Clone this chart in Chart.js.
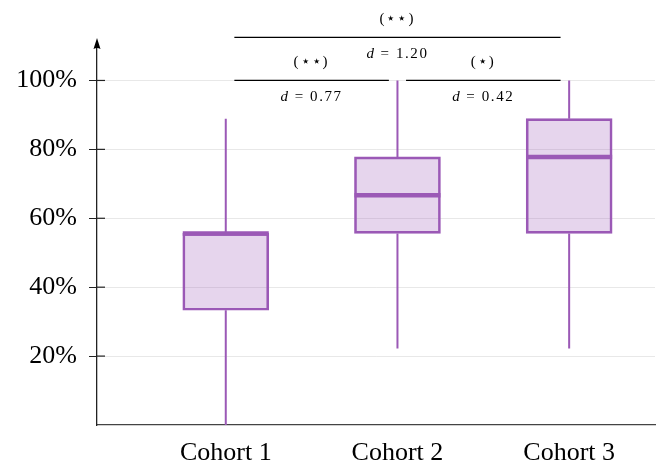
<!DOCTYPE html>
<html>
<head>
<meta charset="utf-8">
<script src="https://cdn.jsdelivr.net/npm/chart.js@4"></script>
<style>
  html, body { margin: 0; padding: 0; background: #fff; }
  #wrap { width: 658px; height: 465px; }
</style>
</head>
<body>
<div id="wrap"><canvas id="boxChart"></canvas></div>
<script>
// box plot values (percent)
const categories = ['Cohort 1', 'Cohort 2', 'Cohort 3'];
const whiskerLow = [0, 22.2, 22.2];
const quartile1 = [33.3, 55.6, 55.6];
const medians = [55.6, 66.7, 77.8];
const quartile3 = [55.6, 77.8, 88.9];
const whiskerHigh = [88.9, 100, 100];
const yTicks = [20, 40, 60, 80, 100];

// significance brackets
const pairFrom = [1, 2, 1];
const pairTo = [2, 3, 3];
const pairLevel = [100, 100, 112.5];
const pairStars = ['(\u22C6\u22C6)', '(\u22C6)', '(\u22C6\u22C6)'];
const pairEffect = ['0.77', '0.42', '1.20'];

const purple = '#9b59b6';
const serif = '"Liberation Serif", "DejaVu Serif", serif';

function drawEffect(ctx, cx, cy, value) {
    const italic = 'italic 15px ' + serif;
    const upright = '15px ' + serif;
    const rest = '= ' + value;
    ctx.letterSpacing = '1.6px';
    ctx.font = italic;
    const w1 = ctx.measureText('d').width + 5;
    ctx.font = upright;
    const w2 = ctx.measureText(rest).width;
    const x = cx - (w1 + w2) / 2;
    ctx.textAlign = 'left';
    ctx.textBaseline = 'middle';
    ctx.font = italic;
    ctx.fillText('d', x, cy);
    ctx.font = upright;
    ctx.fillText(rest, x + w1, cy);
    ctx.letterSpacing = '0px';
}

const boxPlugin = {
    id: 'boxParts',
    afterDatasetsDraw(chart) {
        const ctx = chart.ctx;
        const x = chart.scales.x, y = chart.scales.y;
        const meta = chart.getDatasetMeta(0);
        ctx.save();
        ctx.strokeStyle = purple;
        meta.data.forEach((bar, i) => {
            const cx = x.getPixelForValue(i + 1);
            ctx.lineWidth = 2;
            ctx.beginPath();
            ctx.moveTo(cx, y.getPixelForValue(whiskerLow[i]));
            ctx.lineTo(cx, y.getPixelForValue(quartile1[i]));
            ctx.moveTo(cx, y.getPixelForValue(quartile3[i]));
            ctx.lineTo(cx, y.getPixelForValue(whiskerHigh[i]));
            ctx.stroke();
            const half = bar.width / 2;
            const my = y.getPixelForValue(medians[i]);
            ctx.lineWidth = 4.5;
            ctx.beginPath();
            ctx.moveTo(cx - half, my);
            ctx.lineTo(cx + half, my);
            ctx.stroke();
        });
        ctx.restore();
    },
    afterDraw(chart) {
        const ctx = chart.ctx;
        const x = chart.scales.x, y = chart.scales.y;
        const area = chart.chartArea;
        ctx.save();
        // inner half of the y ticks
        ctx.strokeStyle = '#222';
        ctx.lineWidth = 1.2;
        yTicks.forEach(v => {
            const py = y.getPixelForValue(v);
            ctx.beginPath();
            ctx.moveTo(area.left, py);
            ctx.lineTo(area.left + 8, py);
            ctx.stroke();
        });
        // arrow on the y axis
        ctx.fillStyle = '#000';
        ctx.beginPath();
        ctx.moveTo(area.left, area.top - 8);
        ctx.lineTo(area.left - 3.5, area.top + 3);
        ctx.quadraticCurveTo(area.left, area.top + 1, area.left + 3.5, area.top + 3);
        ctx.closePath();
        ctx.fill();
        // brackets
        ctx.strokeStyle = '#000';
        ctx.lineWidth = 1.2;
        pairFrom.forEach((a, i) => {
            const x0 = x.getPixelForValue(a + 0.05);
            const x1 = x.getPixelForValue(pairTo[i] - 0.05);
            const py = y.getPixelForValue(pairLevel[i]);
            ctx.beginPath();
            ctx.moveTo(x0, py);
            ctx.lineTo(x1, py);
            ctx.stroke();
            const cx = (x0 + x1) / 2;
            ctx.font = '15px ' + serif;
            ctx.letterSpacing = '2px';
            ctx.textAlign = 'center';
            ctx.textBaseline = 'middle';
            ctx.fillText(pairStars[i], cx, py - 18);
            ctx.letterSpacing = '0px';
            drawEffect(ctx, cx, py + 17, pairEffect[i]);
        });
        ctx.restore();
    }
};

new Chart(document.getElementById('boxChart'), {
    type: 'bar',
    data: {
        datasets: [{
            data: categories.map((c, i) => ({ x: i + 1, y: [quartile1[i], quartile3[i]] })),
            backgroundColor: 'rgba(155, 89, 182, 0.25)',
            borderColor: purple,
            borderWidth: 2,
            borderSkipped: false,
            barThickness: 86
        }]
    },
    options: {
        responsive: true,
        maintainAspectRatio: false,
        animation: false,
        layout: { padding: { top: 46, right: 3, left: 0, bottom: 0 } },
        plugins: { legend: { display: false }, tooltip: { enabled: false } },
        scales: {
            x: {
                type: 'linear',
                offset: false,
                min: 0.25,
                max: 3.5,
                afterBuildTicks: s => { s.ticks = categories.map((c, i) => ({ value: i + 1 })); },
                afterFit: s => { s.height = 40; },
                grid: { display: false },
                border: { color: '#444', width: 1.3 },
                ticks: {
                    autoSkip: false,
                    maxRotation: 0,
                    padding: 5,
                    color: '#000',
                    font: { family: serif, size: 26 },
                    callback: v => categories[v - 1]
                }
            },
            y: {
                min: 0,
                max: 110,
                afterBuildTicks: s => { s.ticks = yTicks.map(v => ({ value: v })); },
                afterFit: s => { s.width = 97; },
                grid: { color: '#e8e8e8', lineWidth: 1, tickColor: '#222', tickLength: 8 },
                border: { color: '#222', width: 1.3 },
                ticks: {
                    padding: 12,
                    color: '#000',
                    font: { family: serif, size: 26 },
                    callback: v => v + '%'
                }
            }
        }
    },
    plugins: [boxPlugin]
});
</script>
</body>
</html>
